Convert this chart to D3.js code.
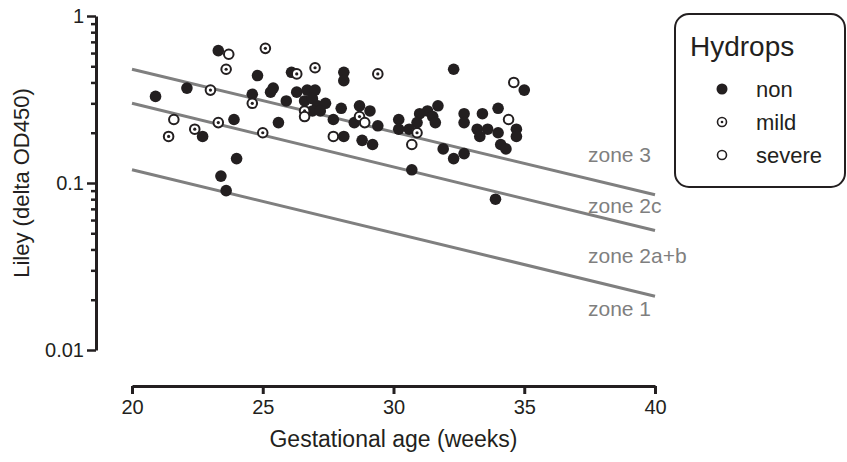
<!DOCTYPE html>
<html>
<head>
<meta charset="utf-8">
<script src="https://cdn.jsdelivr.net/npm/d3@7"></script>
<style>
  body { margin: 0; background: #fff; }
  svg { font-family: "Liberation Sans", Arial, sans-serif; }
</style>
</head>
<body>
<svg id="chart" width="847" height="462"></svg>
<script>
// data: [weeks, Liley delta OD450]
var nonPts = [
  [23.3,0.62],[24.8,0.44],[20.9,0.33],[22.1,0.37],[24.6,0.34],[22.7,0.19],[23.9,0.24],[24.0,0.14],
  [23.4,0.11],[23.6,0.09],[26.1,0.46],[28.1,0.46],[28.1,0.41],[25.3,0.35],[25.4,0.37],[25.9,0.31],
  [26.3,0.35],[26.7,0.36],[27.0,0.36],[26.6,0.31],[26.9,0.32],[27.1,0.29],[26.9,0.27],[27.4,0.30],
  [27.2,0.27],[28.0,0.28],[27.7,0.24],[28.7,0.29],[29.1,0.27],[28.5,0.23],[29.4,0.22],[25.6,0.23],
  [28.1,0.19],[28.8,0.18],[29.2,0.17],[32.3,0.48],[35.0,0.36],[30.2,0.24],[31.7,0.29],[31.3,0.27],
  [31.0,0.26],[31.5,0.25],[30.9,0.23],[31.6,0.23],[30.6,0.21],[30.2,0.21],[32.7,0.26],[32.7,0.23],
  [33.4,0.26],[34.0,0.28],[33.2,0.21],[33.6,0.21],[33.3,0.19],[34.0,0.20],[34.7,0.21],[34.7,0.19],
  [34.1,0.17],[34.3,0.16],[31.9,0.16],[32.3,0.14],[32.7,0.15],[30.7,0.12],[33.9,0.08]
];
var mildPts = [
  [23.6,0.48],[23.0,0.36],[24.6,0.30],[22.4,0.21],[23.3,0.23],[21.4,0.19],[25.1,0.64],[26.3,0.45],
  [27.0,0.49],[29.4,0.45],[26.6,0.27],[28.7,0.25],[25.0,0.20],[30.9,0.20]
];
var severePts = [
  [23.7,0.59],[21.6,0.24],[26.6,0.25],[28.9,0.23],[27.7,0.19],[34.6,0.40],[30.7,0.17],[34.4,0.24]
];

// Liley zone boundaries, value at 20 and at 40 weeks
var zoneLines = [[0.48,0.085],[0.30,0.052],[0.12,0.021]];
var zoneNames = ["zone 3","zone 2c","zone 2a+b","zone 1"];
var zoneLabelAt = [0.134,0.066,0.033,0.016];

var xTicks = [20,25,30,35,40];
var yMajor = [0.01,0.1,1];

var ink = "#231f20", grey = "#7f7f7f";

var svg = d3.select("#chart");

var x = d3.scaleLinear().domain([20,40]).range([132,655]);
var y = d3.scaleLog().domain([0.01,1]).range([350,16]);

function isMajor(d) {
  return yMajor.some(function(m){ return Math.abs(m-d)<1e-9; });
}

// x axis
var xAxis = svg.append("g")
  .attr("transform","translate(0,386)")
  .call(d3.axisBottom(x).tickValues(xTicks).tickSize(8).tickSizeOuter(0).tickPadding(6));
xAxis.select(".domain").attr("stroke",ink).attr("stroke-width",3);
xAxis.selectAll(".tick line").attr("stroke",ink).attr("stroke-width",3);
xAxis.selectAll(".tick text").attr("fill",ink).style("font-size","20px");

// y axis with minor ticks
var yAll = [];
[0.01,0.1].forEach(function(d){ for (var k=1;k<10;k++) yAll.push(d*k); });
yAll.push(1);
var yAxis = svg.append("g")
  .attr("transform","translate(96,0)")
  .call(d3.axisLeft(y).tickValues(yAll).tickSizeOuter(0).tickPadding(4)
    .tickFormat(function(d){ return isMajor(d) ? d3.format("")(+d.toPrecision(1)) : ""; }));
yAxis.select(".domain").attr("stroke",ink).attr("stroke-width",3);
yAxis.selectAll(".tick line")
  .attr("stroke",ink).attr("stroke-width",2.5)
  .attr("x2",function(d){ return isMajor(d) ? -9 : -5; });
yAxis.selectAll(".tick text").attr("fill",ink).style("font-size","20px")
  .attr("x",-12);

// axis titles
svg.append("text")
  .attr("x",(x(20)+x(40))/2).attr("y",447)
  .attr("text-anchor","middle").attr("fill",ink)
  .style("font-size","23px")
  .text("Gestational age (weeks)");
svg.append("text")
  .attr("transform","translate(29,"+((y(1)+y(0.01))/2)+") rotate(-90)")
  .attr("text-anchor","middle").attr("fill",ink)
  .style("font-size","22px")
  .text("Liley (delta OD450)");

// zone lines
svg.selectAll(".zone")
  .data(zoneLines)
  .enter()
  .append("line")
    .attr("x1",x(20)).attr("x2",x(40))
    .attr("y1",function(d){ return y(d[0]); })
    .attr("y2",function(d){ return y(d[1]); })
    .attr("stroke",grey).attr("stroke-width",3);

svg.selectAll(".zonelabel")
  .data(zoneNames)
  .enter()
  .append("text")
    .attr("x",588)
    .attr("y",function(d,i){ return y(zoneLabelAt[i]); })
    .attr("fill",grey)
    .style("font-size","21px")
    .text(function(d){ return d; });

// points
var r = 5.8;
svg.append("g").selectAll("circle")
  .data(nonPts)
  .enter()
  .append("circle")
    .attr("cx",function(d){ return x(d[0]); })
    .attr("cy",function(d){ return y(d[1]); })
    .attr("r",r)
    .attr("fill",ink);

var mildG = svg.append("g").selectAll("g")
  .data(mildPts)
  .enter()
  .append("g")
    .attr("transform",function(d){ return "translate("+x(d[0])+","+y(d[1])+")"; });
mildG.append("circle").attr("r",r-1).attr("fill","#fff").attr("stroke",ink).attr("stroke-width",2);
mildG.append("circle").attr("r",1.6).attr("fill",ink);

svg.append("g").selectAll("circle")
  .data(severePts)
  .enter()
  .append("circle")
    .attr("cx",function(d){ return x(d[0]); })
    .attr("cy",function(d){ return y(d[1]); })
    .attr("r",r-1)
    .attr("fill","#fff")
    .attr("stroke",ink)
    .attr("stroke-width",2);

// legend
var legend = svg.append("g");
legend.append("rect")
  .attr("x",675).attr("y",14).attr("width",170).attr("height",173)
  .attr("rx",14).attr("ry",14)
  .attr("fill","none").attr("stroke",ink).attr("stroke-width",2);
legend.append("text")
  .attr("x",690).attr("y",56)
  .attr("fill",ink).style("font-size","28px")
  .text("Hydrops");

var legendKeys = ["non","mild","severe"];
var legendRow = legend.selectAll(".row")
  .data(legendKeys)
  .enter()
  .append("g")
    .attr("transform",function(d,i){ return "translate(722,"+(89+i*33)+")"; });
legendRow.append("circle")
  .attr("r",function(d){ return d=="non" ? 5.5 : 4.5; })
  .attr("fill",function(d){ return d=="non" ? ink : "#fff"; })
  .attr("stroke",ink)
  .attr("stroke-width",function(d){ return d=="non" ? 0 : 1.6; });
legendRow.filter(function(d){ return d=="mild"; })
  .append("circle").attr("r",1.3).attr("fill",ink);
legendRow.append("text")
  .attr("x",34).attr("y",0)
  .attr("dy","0.35em")
  .attr("fill",ink).style("font-size","22px")
  .text(function(d){ return d; });
</script>
</body>
</html>
